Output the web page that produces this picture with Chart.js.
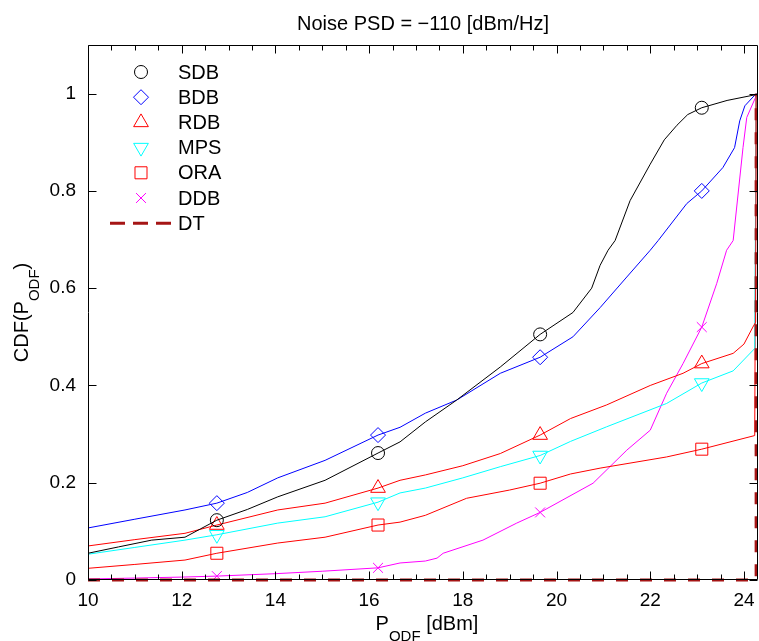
<!DOCTYPE html>
<html lang="en">
<head>
    <meta charset="UTF-8">
    <title>Noise PSD = -110 [dBm/Hz]</title>
    <style>
        body {
            margin: 0;
            padding: 0;
            background: #fff;
        }

        #chartContainer {
            width: 759px;
            height: 641px;
        }
    </style>
    <script src="https://cdn.jsdelivr.net/npm/chart.js"></script>
</head>
<body>
    <div id="chartContainer">
        <canvas id="cdfChart" width="759" height="641"></canvas>
    </div>

    <script>
        // values
        const xTickValues = [10, 12, 14, 16, 18, 20, 22, 24];
        const yTickValues = [0, 0.2, 0.4, 0.6, 0.8, 1];
        const markerX = [12.75, 16.19, 19.65, 23.1];

        const sdbX = [10, 10.65, 11.36, 12.07, 12.4, 12.75, 13.4, 14.05, 15.06, 16.19, 16.66, 17.2, 17.87, 18.8, 19.65, 20.35, 20.75, 20.93, 21.1, 21.25, 21.57, 22.0, 22.3, 22.57, 22.8, 23.1, 23.64, 24.26];
        const sdbY = [0.055, 0.068, 0.082, 0.088, 0.105, 0.123, 0.145, 0.171, 0.205, 0.261, 0.284, 0.325, 0.37, 0.438, 0.505, 0.55, 0.60, 0.647, 0.678, 0.698, 0.78, 0.855, 0.905, 0.935, 0.957, 0.971, 0.986, 0.998];

        const bdbX = [10, 11, 12.07, 12.75, 13.4, 14.05, 15.06, 16.19, 16.66, 17.2, 17.87, 18.8, 19.65, 20.35, 20.93, 21.5, 22.0, 22.17, 22.78, 23.1, 23.55, 23.8, 23.91, 24.02, 24.26];
        const bdbY = [0.107, 0.125, 0.144, 0.158, 0.18, 0.21, 0.246, 0.298, 0.314, 0.343, 0.37, 0.425, 0.458, 0.50, 0.56, 0.623, 0.678, 0.698, 0.774, 0.80, 0.848, 0.889, 0.944, 0.975, 1.0];

        const rdbX = [10, 11, 12.07, 12.75, 14.05, 15.06, 16.19, 16.66, 17.2, 18.0, 18.8, 19.65, 20.3, 21.07, 22.0, 22.7, 23.1, 23.77, 24.0, 24.19, 24.25, 24.26];
        const rdbY = [0.07, 0.083, 0.096, 0.113, 0.144, 0.158, 0.189, 0.205, 0.216, 0.235, 0.26, 0.298, 0.332, 0.36, 0.40, 0.425, 0.445, 0.466, 0.485, 0.52, 0.53, 1.0];

        const mpsX = [10, 11, 12.07, 12.75, 14.05, 15.06, 16.19, 16.66, 17.2, 18.0, 18.8, 19.65, 20.3, 21.07, 22.35, 23.1, 23.77, 24.23, 24.26];
        const mpsY = [0.053, 0.067, 0.082, 0.093, 0.117, 0.13, 0.16, 0.179, 0.189, 0.21, 0.233, 0.256, 0.285, 0.315, 0.363, 0.405, 0.43, 0.476, 1.0];

        const oraX = [10, 11, 12.07, 12.75, 14.05, 15.06, 16.19, 16.66, 17.2, 18.08, 19.0, 19.65, 20.3, 20.93, 22.35, 23.1, 24.23, 24.26];
        const oraY = [0.024, 0.032, 0.041, 0.055, 0.076, 0.088, 0.113, 0.119, 0.133, 0.168, 0.185, 0.199, 0.218, 0.23, 0.253, 0.269, 0.297, 1.0];

        const ddbX = [10, 11, 12, 12.75, 14, 15, 16.19, 16.66, 17.2, 17.45, 17.58, 18.43, 19.15, 19.65, 20.78, 21.5, 22.0, 22.35, 22.7, 23.1, 23.42, 23.63, 23.77, 23.98, 24.06, 24.26];
        const ddbY = [0.002, 0.004, 0.006, 0.008, 0.013, 0.018, 0.025, 0.035, 0.039, 0.045, 0.055, 0.082, 0.117, 0.139, 0.199, 0.267, 0.308, 0.384, 0.445, 0.52, 0.61, 0.678, 0.698, 0.889, 0.951, 0.995];

        const dtX = [10, 24.26, 24.26];
        const dtY = [0, 0, 1];

        const FONT = '"Liberation Sans", Arial, Helvetica, sans-serif';

        function toPoints(xs, ys) {
            return xs.map((x, i) => ({ x: x, y: ys[i] }));
        }

        function curve(label, xs, ys, color, style, r, rotation) {
            return {
                label: label,
                data: toPoints(xs, ys),
                borderColor: color,
                borderWidth: 1,
                pointStyle: style,
                pointRotation: rotation || 0,
                pointBorderColor: color,
                pointBackgroundColor: 'rgba(0,0,0,0)',
                pointBorderWidth: 1,
                pointRadius: ctx => markerX.includes(ctx.raw.x) ? r : 0,
                markerSize: r,
                tension: 0,
                fill: false
            };
        }

        // MATLAB-like box, inward ticks, axis labels with subscripts and legend
        const matlabAxes = {
            id: 'matlabAxes',
            afterDraw(chart) {
                const { ctx, chartArea: a, scales: { x, y } } = chart;
                const L = Math.round(a.left) + 0.5, R = Math.round(a.right) - 0.5;
                const T = Math.round(a.top) + 0.5, B = Math.round(a.bottom) - 0.5;
                ctx.save();
                ctx.strokeStyle = '#000';
                ctx.lineWidth = 1;
                ctx.setLineDash([]);
                ctx.beginPath();
                ctx.rect(L, T, R - L, B - T);
                for (let k = 0; 10 + k * 0.5 <= 24.3; k++) {
                    const v = 10 + k * 0.5;
                    const px = Math.round(x.getPixelForValue(v)) + 0.5;
                    const len = (k % 4 === 0) ? 8 : 5;
                    ctx.moveTo(px, B);
                    ctx.lineTo(px, B - len);
                    ctx.moveTo(px, T);
                    ctx.lineTo(px, T + len);
                }
                yTickValues.forEach(v => {
                    const py = Math.round(y.getPixelForValue(v)) + 0.5;
                    ctx.moveTo(L, py);
                    ctx.lineTo(L + 8, py);
                    ctx.moveTo(R, py);
                    ctx.lineTo(R - 8, py);
                });
                ctx.stroke();

                // axis titles
                ctx.fillStyle = '#000';
                ctx.textBaseline = 'alphabetic';
                ctx.textAlign = 'left';
                drawSubLabel(ctx, 'P', 'ODF', ' [dBm]', (a.left + a.right) / 2 + 4, 630, 0);
                drawSubLabel(ctx, 'CDF(P', 'ODF', ')', 28, (a.top + a.bottom) / 2, -Math.PI / 2);

                // legend
                const mx = a.left + 53, tx = a.left + 90;
                chart.data.datasets.forEach((ds, i) => {
                    const ly = a.top + 27 + i * 25.2;
                    ctx.strokeStyle = ds.borderColor;
                    if (ds.markerSize) {
                        ctx.fillStyle = 'rgba(0,0,0,0)';
                        ctx.lineWidth = 1;
                        ctx.setLineDash([]);
                        Chart.helpers.drawPoint(ctx, {
                            pointStyle: ds.pointStyle,
                            rotation: ds.pointRotation,
                            radius: ds.markerSize,
                            borderWidth: 1
                        }, mx, ly);
                    } else {
                        ctx.lineWidth = ds.borderWidth;
                        ctx.setLineDash([15, 8]);
                        ctx.beginPath();
                        ctx.moveTo(a.left + 22, ly);
                        ctx.lineTo(a.left + 85, ly);
                        ctx.stroke();
                        ctx.setLineDash([]);
                    }
                    ctx.fillStyle = '#000';
                    ctx.font = '20px ' + FONT;
                    ctx.textBaseline = 'middle';
                    ctx.fillText(ds.label, tx, ly + 1);
                });
                ctx.restore();
            }
        };

        function drawSubLabel(ctx, main, sub, tail, cx, cy, rot) {
            const big = '20px ' + FONT, small = '15px ' + FONT;
            ctx.font = big;
            const w1 = ctx.measureText(main).width;
            const w3 = ctx.measureText(tail).width;
            ctx.font = small;
            const w2 = ctx.measureText(sub).width;
            const x0 = -(w1 + w2 + w3) / 2;
            ctx.save();
            ctx.translate(cx, cy);
            ctx.rotate(rot);
            ctx.font = big;
            ctx.fillText(main, x0, 0);
            ctx.font = small;
            ctx.fillText(sub, x0 + w1, 11);
            ctx.font = big;
            ctx.fillText(tail, x0 + w1 + w2, 0);
            ctx.restore();
        }

        const ctx = document.getElementById('cdfChart').getContext('2d');
        const chart = new Chart(ctx, {
            type: 'scatter',
            data: {
                datasets: [
                    curve('SDB', sdbX, sdbY, '#000000', 'circle', 6.5),
                    curve('BDB', bdbX, bdbY, '#0000ff', 'rectRot', 7.5),
                    curve('RDB', rdbX, rdbY, '#ff0000', 'triangle', 8.5),
                    curve('MPS', mpsX, mpsY, '#00ffff', 'triangle', 8.5, 180),
                    curve('ORA', oraX, oraY, '#ff0000', 'rect', 8.5),
                    curve('DDB', ddbX, ddbY, '#ff00ff', 'crossRot', 7),
                    {
                        label: 'DT',
                        data: toPoints(dtX, dtY),
                        borderColor: '#a51515',
                        borderWidth: 3,
                        borderDash: [12, 12],
                        pointRadius: 0,
                        tension: 0,
                        fill: false,
                        order: -1,
                        clip: 5
                    }
                ].map(ds => Object.assign({ showLine: true }, ds))
            },
            options: {
                responsive: false,
                devicePixelRatio: 1,
                animation: false,
                events: [],
                layout: {
                    padding: { top: 0, right: 1, bottom: 0, left: 0 }
                },
                plugins: {
                    legend: { display: false },
                    tooltip: { enabled: false },
                    title: {
                        display: true,
                        fullSize: false,
                        text: 'Noise PSD = \u2212110 [dBm/Hz]',
                        color: '#000',
                        font: { family: FONT, size: 20, weight: 'normal' },
                        padding: { top: 12, bottom: 9 }
                    }
                },
                scales: {
                    x: {
                        type: 'linear',
                        min: 10,
                        max: 24.3,
                        grid: { display: false, drawTicks: false },
                        border: { display: false },
                        afterBuildTicks: scale => {
                            scale.ticks = xTickValues.map(v => ({ value: v }));
                        },
                        afterFit: scale => {
                            scale.height = 61;
                            scale.paddingLeft = 0;
                            scale.paddingRight = 0;
                        },
                        ticks: {
                            color: '#000',
                            padding: 9,
                            maxRotation: 0,
                            font: { family: FONT, size: 19 },
                            callback: v => String(v)
                        }
                    },
                    y: {
                        type: 'linear',
                        min: 0,
                        max: 1.1,
                        grid: { display: false, drawTicks: false },
                        border: { display: false },
                        afterBuildTicks: scale => {
                            scale.ticks = yTickValues.map(v => ({ value: v }));
                        },
                        afterFit: scale => {
                            scale.width = 88;
                            scale.paddingTop = 0;
                            scale.paddingBottom = 0;
                        },
                        ticks: {
                            color: '#000',
                            padding: 12,
                            font: { family: FONT, size: 19 },
                            callback: v => String(Math.round(v * 10) / 10)
                        }
                    }
                }
            },
            plugins: [matlabAxes]
        });
    </script>
</body>
</html>
